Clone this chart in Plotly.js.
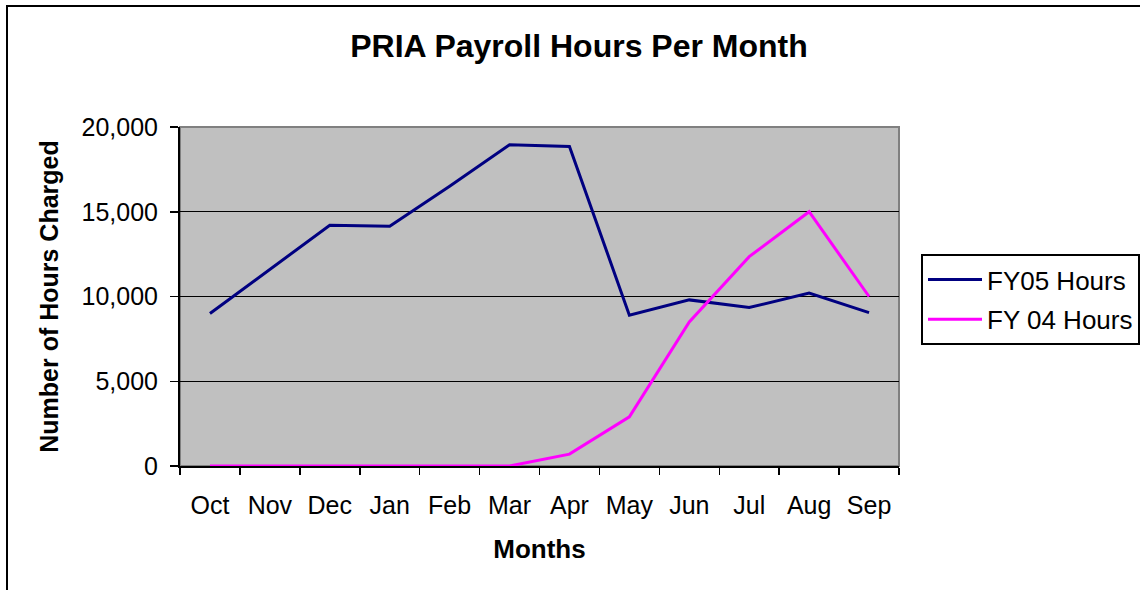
<!DOCTYPE html>
<html>
<head>
<meta charset="utf-8">
<script src="https://cdn.plot.ly/plotly-3.0.1.min.js"></script>
<style>
html, body { margin: 0; padding: 0; background: #ffffff; }
#chart { width: 1140px; height: 590px; }
</style>
</head>
<body>
<div id="chart"></div>
<script>
const months = ['Oct','Nov','Dec','Jan','Feb','Mar','Apr','May','Jun','Jul','Aug','Sep'];
const fy05Hours = [9000, 11600, 14200, 14150, 16500, 18950, 18850, 8900, 9800, 9350, 10200, 9050];
const fy04Hours = [0, 0, 0, 0, 0, 0, 700, 2900, 8500, 12350, 15000, 10000];
const seriesNames = ['FY05 Hours', 'FY 04 Hours'];
const yTicks = [0, 5000, 10000, 15000, 20000];

const FONT = 'Arial, "Liberation Sans", sans-serif';

const traces = [
  {
    type: 'scatter', mode: 'lines', name: seriesNames[0], legendgroup: 'a',
    x: months, y: fy05Hours,
    line: {color: '#000080', width: 3}
  },
  {
    type: 'scatter', mode: 'lines', name: seriesNames[1], legendgroup: 'b',
    x: months, y: fy04Hours,
    line: {color: '#FF00FF', width: 3}
  }
];

// plot area in pixels: x 180..899, y 127..466
const L = 180, R = 899, T = 127, B = 466, W = 1140, H = 590;
const px = v => (v - L) / (R - L);
const py = v => (B - v) / (B - T);

const layout = {
  width: W, height: H,
  margin: {l: L, r: W - R, t: T, b: H - B, pad: 0, autoexpand: false},
  paper_bgcolor: '#ffffff',
  plot_bgcolor: '#C0C0C0',
  font: {family: FONT, size: 25, color: '#000000'},
  showlegend: true,
  title: {
    text: 'PRIA Payroll Hours Per Month',
    font: {family: FONT, size: 32, weight: 'bold', color: '#000000'},
    xref: 'container', yref: 'container',
    x: 579 / W, y: 1 - 46 / H, xanchor: 'center', yanchor: 'middle'
  },
  xaxis: {
    type: 'category',
    range: [-0.5, 11.5],
    tickson: 'boundaries',
    ticks: 'outside', ticklen: 7, tickwidth: 1.5, tickcolor: '#000000',
    showline: true, linecolor: '#000000', linewidth: 2,
    showgrid: false, zeroline: false,
    tickfont: {family: FONT, size: 25, color: '#000000'},
    ticklabelstandoff: 16,
    title: {text: 'Months', font: {family: FONT, size: 26, weight: 'bold', color: '#000000'}, standoff: 22},
    automargin: false,
    fixedrange: true
  },
  yaxis: {
    range: [0, 20000],
    tickvals: yTicks,
    tickformat: ',d',
    ticks: 'outside', ticklen: 8, tickwidth: 1.5, tickcolor: '#000000',
    showline: true, linecolor: '#000000', linewidth: 2,
    showgrid: true, gridcolor: '#000000', gridwidth: 1,
    zeroline: false,
    tickfont: {family: FONT, size: 25, color: '#000000'},
    ticklabelstandoff: 7,
    title: {text: 'Number of Hours Charged', font: {family: FONT, size: 25, weight: 'bold', color: '#000000'}, standoff: 16},
    automargin: false,
    fixedrange: true
  },
  legend: {
    x: px(921), y: py(254), xanchor: 'left', yanchor: 'top',
    bgcolor: '#ffffff', bordercolor: '#000000', borderwidth: 2,
    font: {family: FONT, size: 26, color: '#000000'},
    itemwidth: 54,
    tracegroupgap: 3
  },
  shapes: [
    // gray plot area border (top/right visible)
    {type: 'rect', xref: 'paper', yref: 'paper', x0: 0, x1: 1, y0: 0, y1: 1,
     line: {color: '#808080', width: 2}, layer: 'below'},
    // outer chart border
    {type: 'rect', xref: 'paper', yref: 'paper',
     x0: px(7), x1: px(1160), y0: py(6), y1: py(620),
     line: {color: '#000000', width: 2}, fillcolor: 'rgba(0,0,0,0)', layer: 'above'}
  ],
  hovermode: false
};

Plotly.newPlot('chart', traces, layout, {displayModeBar: false, staticPlot: true});
</script>
</body>
</html>
